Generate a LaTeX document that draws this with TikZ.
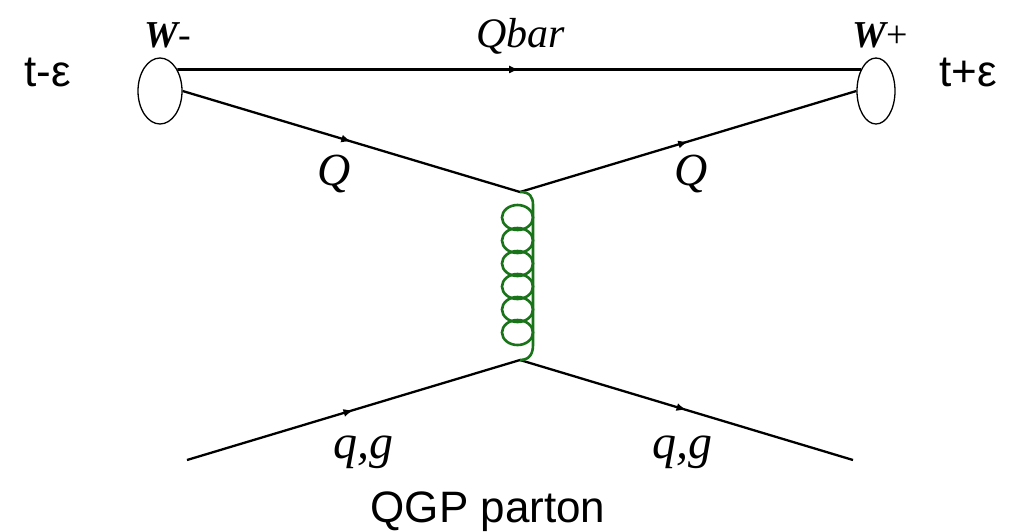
\documentclass[tikz,border=0pt]{standalone}
\usepackage{fontspec}
\setmainfont{Liberation Serif}
\newfontfamily\sansfont{Liberation Sans}
\usetikzlibrary{shapes.geometric,decorations.markings,arrows.meta}
\definecolor{gluongreen}{RGB}{25,115,25}
\tikzset{
  blob/.style={draw, ellipse, line width=1.3pt, inner sep=0pt, minimum height=66pt},
  fermion/.style={line width=2.3pt, postaction={decorate},
    decoration={markings, mark=at position 0.5 with {\arrow{Latex[length=10pt,width=8pt]}}}},
  gluon/.style={gluongreen, line width=2.6pt},
  lbl/.style={inner sep=0pt, anchor=base, font=\fontsize{#1}{#1}\selectfont\itshape},
  tlbl/.style={inner sep=0pt, anchor=base, font=\fontsize{#1}{#1}\selectfont\sansfont},
}
\begin{document}
\begin{tikzpicture}[x=1pt, y=-1pt]
\path[use as bounding box, fill=white] (0,0) rectangle (1009,531);
% W bosons at the two times
\node[blob, minimum width=44pt] (wl) at (160,91) {};
\node[blob, minimum width=38pt] (wr) at (876,91) {};
\coordinate (v1) at (520,192);
\coordinate (v2) at (520,360);
\coordinate (inl) at (187,460);
\coordinate (outr) at (853,460);
% quark lines
\draw[fermion, line width=2.8pt] (wl.51) -- (wr.125);
\draw[fermion] (wl.east) -- (v1);
\draw[fermion] (v1) -- (wr.west);
\draw[fermion] (inl) -- (v2);
\draw[fermion] (v2) -- (outr);
% gluon exchange
\draw[gluon] (v1) .. controls (530,192) and (533,197) .. (533,205) -- (533,345)
  .. controls (533,353) and (530,360) .. (v2);
\foreach \k in {0,...,5}
  \draw[gluon] (517.5,{217.5+23*\k}) ellipse (15.5 and 12.5);
% labels
\node[lbl=38] (wmlab) at (168,47) {\textbf{W}\upshape-};
\node[lbl=38] (wplab) at (880,47) {\textbf{W}\upshape+};
\node[lbl=42] (qbarlab) at (521,47) {Qbar};
\node[lbl=46] (qllab) at (334,185) {Q};
\node[lbl=46] (qrlab) at (691,185) {Q};
\node[lbl=48] (pllab) at (363,458) {q,g};
\node[lbl=48] (prlab) at (682,458) {q,g};
\node[tlbl=44] (tmlab) at (48,86) {t-ε};
\node[tlbl=44] (tplab) at (968,86) {t+ε};
\node[tlbl=44] (qgplab) at (488,522) {QGP parton};
\end{tikzpicture}
\end{document}
